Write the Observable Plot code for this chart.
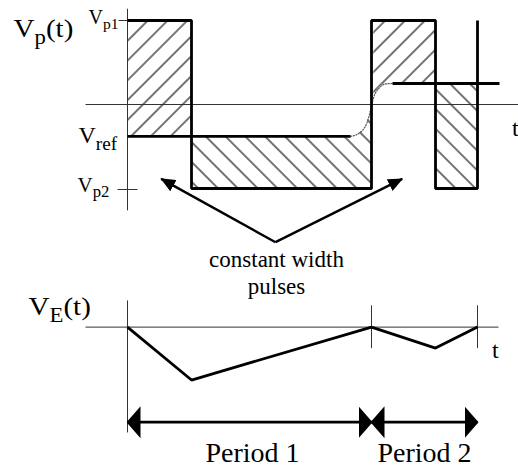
<!DOCTYPE html>
<html><head><meta charset="utf-8">
<script src="https://cdn.jsdelivr.net/npm/d3@7"></script>
<script src="https://cdn.jsdelivr.net/npm/@observablehq/plot@0.6"></script>
<style>body{margin:0;background:#fff}#chart{width:518px;height:468px}</style>
</head><body><div id="chart"></div>
<script>
// ---- data (time units, voltage units) ----
const edgeTimes = [0, 64, 244, 308, 350];          // pulse edges
const pulseLevels = [1, -1, 1, -1, 1];              // Vp1 / Vp2 (step-after)
const VP1 = 1, VP2 = -1;
const vrefSegments = [{t1: 0, t2: 223, v: -0.38}, {t1: 265, t2: 372, v: 0.25}];
const transT = [223, 233, 241.3, 243.7, 246.3, 251.3, 258, 265];
const transV = [-0.38, -0.33, -0.15, -0.03, 0.09, 0.19, 0.245, 0.25];
const veLevels = [0, -0.63, 0, -0.25, 0];           // VE(t) at the edges
const VE_ZERO = -2.65;                              // vertical position of VE panel zero
const periodLabels = ["Period 1", "Period 2"];

const labelsStart = [
  {text: "V_{p}(t)", t: -114, v: 0.80, size: 26, sub: 0.78, stretch: 1.12},
  {text: "V_{p1}", t: -39, v: 0.964, size: 20, sub: 0.78, stretch: 1},
  {text: "V_{ref}", t: -49, v: -0.464, size: 24, sub: 0.8, stretch: 1},
  {text: "V_{p2}", t: -50, v: -1.036, size: 20, sub: 0.8, stretch: 1.05},
  {text: "t", t: 384.5, v: -0.37, size: 24, sub: 1, stretch: 1},
  {text: "V_{E}(t)", t: -99, v: -2.51, size: 26, sub: 0.78, stretch: 1.12},
  {text: "t", t: 364.5, v: -3.012, size: 24, sub: 1, stretch: 1}
];
const labelsMiddle = [
  {text: "constant width", t: 149, v: -1.937, size: 23},
  {text: "pulses", t: 149, v: -2.25, size: 23},
  {text: periodLabels[0], t: 125, v: -4.258, size: 28},
  {text: periodLabels[1], t: 297, v: -4.258, size: 28}
];

// ---- derived tables ----
const wave = edgeTimes.map((t, i) => ({t, v: pulseLevels[i]}));
const ve = edgeTimes.map((t, i) => ({t, v: VE_ZERO + veLevels[i]}));
const trans = transT.map((t, i) => ({t, v: transV[i]}));
const hatchF = [{t1: edgeTimes[0], t2: edgeTimes[1], v1: vrefSegments[0].v, v2: VP1}];
const hatchB = [{t1: edgeTimes[3], t2: edgeTimes[4], v1: VP2, v2: vrefSegments[1].v}];
const areaLow = [{t: edgeTimes[1], lo: VP2, hi: vrefSegments[0].v}]
  .concat(trans.filter(d => d.t <= edgeTimes[2]).map(d => ({t: d.t, lo: VP2, hi: d.v})));
const areaHigh = trans.filter(d => d.t >= edgeTimes[2]).map(d => ({t: d.t, lo: d.v, hi: VP1}))
  .concat([{t: edgeTimes[3], lo: vrefSegments[1].v, hi: VP1}]);

const thin = [
  {t1: -42, v1: 0, t2: 391, v2: 0},
  {t1: 0, v1: 1.14, t2: 0, v2: -1.26},
  {t1: -9, v1: VP1, t2: 0, v2: VP1},
  {t1: -10, v1: VP2 - 0.012, t2: 10, v2: VP2 - 0.012},
  {t1: -42, v1: VE_ZERO, t2: 371, v2: VE_ZERO},
  {t1: 0, v1: VE_ZERO + 0.318, t2: 0, v2: VE_ZERO - 1.254},
  {t1: edgeTimes[2], v1: VE_ZERO + 0.26, t2: edgeTimes[2], v2: VE_ZERO - 0.25},
  {t1: edgeTimes[4], v1: VE_ZERO + 0.26, t2: edgeTimes[4], v2: VE_ZERO - 0.25}
];
const pointers = [
  {t1: 148, v1: -1.639, t2: 33.7, v2: -0.885},
  {t1: 148, v1: -1.639, t2: 274.7, v2: -0.885}
];
const PERIOD_V = VE_ZERO - 1.132;
const periods = [
  {t1: edgeTimes[0], t2: edgeTimes[2], v: PERIOD_V},
  {t1: edgeTimes[2], t2: edgeTimes[4], v: PERIOD_V}
];

const FONT = "'Liberation Serif', 'Times New Roman', Times, serif";
const textMarks = [];
for (const [size, rows] of d3.group(labelsStart, d => d.size))
  textMarks.push(Plot.text(rows, {x: "t", y: "v", text: "text", textAnchor: "start", lineAnchor: "bottom", fontSize: size, fontFamily: FONT, fill: "black"}));
for (const [size, rows] of d3.group(labelsMiddle, d => d.size))
  textMarks.push(Plot.text(rows, {x: "t", y: "v", text: "text", textAnchor: "middle", lineAnchor: "bottom", fontSize: size, fontFamily: FONT, fill: "black"}));

const svg = Plot.plot({
  width: 518, height: 468, margin: 0,
  x: {domain: [-127, 391], axis: null},
  y: {domain: [-4.333, 1.238], axis: null},
  style: {background: "white", fontFamily: FONT, overflow: "visible"},
  marks: [
    Plot.rect(hatchF, {x1: "t1", x2: "t2", y1: "v1", y2: "v2", fill: "url(#hatchF)"}),
    Plot.rect(hatchB, {x1: "t1", x2: "t2", y1: "v1", y2: "v2", fill: "url(#hatchB)"}),
    Plot.areaY(areaLow, {x: "t", y1: "lo", y2: "hi", fill: "url(#hatchB)", curve: "monotone-x"}),
    Plot.areaY(areaHigh, {x: "t", y1: "lo", y2: "hi", fill: "url(#hatchF)", curve: "monotone-x"}),
    Plot.link(thin, {x1: "t1", y1: "v1", x2: "t2", y2: "v2", stroke: "#333", strokeWidth: 1}),
    Plot.line(trans, {x: "t", y: "v", curve: "monotone-x", stroke: "#555", strokeWidth: 1.2, strokeDasharray: "1.2,1.6"}),
    Plot.link(vrefSegments, {x1: "t1", x2: "t2", y1: "v", y2: "v", stroke: "black", strokeWidth: 2.8, strokeLinecap: "butt"}),
    Plot.line(wave, {x: "t", y: "v", curve: "step-after", stroke: "black", strokeWidth: 2.8, strokeLinejoin: "miter", strokeLinecap: "butt"}),
    Plot.line(ve, {x: "t", y: "v", stroke: "black", strokeWidth: 2.8, strokeLinejoin: "miter", strokeLinecap: "butt"}),
    Plot.link(pointers, {x1: "t1", y1: "v1", x2: "t2", y2: "v2", stroke: "black", strokeWidth: 2.4, strokeLinecap: "butt", ariaDescription: "pointer"}),
    Plot.link(periods, {x1: "t1", x2: "t2", y1: "v", y2: "v", stroke: "black", strokeWidth: 2.8, strokeLinecap: "butt", ariaDescription: "period"}),
    ...textMarks
  ]
});

// defs: hatch patterns and filled arrowheads
const defs = d3.select(svg).insert("defs", ":first-child");
[["hatchF", 45], ["hatchB", -45]].forEach(([id, a]) => {
  defs.append("pattern").attr("id", id).attr("patternUnits", "userSpaceOnUse")
    .attr("width", 14).attr("height", 14).attr("patternTransform", `rotate(${a})`)
    .append("line").attr("x1", 7).attr("x2", 7).attr("y1", -1).attr("y2", 15)
    .attr("stroke", "black").attr("stroke-width", 1.1);
});
function marker(id, len, half) {
  defs.append("marker").attr("id", id).attr("markerUnits", "userSpaceOnUse")
    .attr("viewBox", `0 ${-half} ${len} ${2 * half}`).attr("markerWidth", len).attr("markerHeight", 2 * half)
    .attr("refX", len - 1).attr("refY", 0).attr("orient", "auto-start-reverse")
    .append("path").attr("d", `M0,${-half}L${len},0L0,${half}Z`).attr("fill", "black");
}
marker("headSmall", 15, 6.5);
marker("headBig", 14, 16);
d3.select(svg).selectAll('[aria-description="pointer"] path').attr("marker-end", "url(#headSmall)");
d3.select(svg).selectAll('[aria-description="period"] path')
  .attr("marker-start", "url(#headBig)").attr("marker-end", "url(#headBig)");

document.getElementById("chart").appendChild(svg);

// subscripts and horizontal stretch of the left labels
const labelInfo = new Map(labelsStart.map(d => [d.text, d]));
d3.select(svg).selectAll("text").each(function () {
  const s = this.textContent;
  const info = labelInfo.get(s);
  if (!info) return;
  if (info.stretch !== 1) {
    const tr = this.getAttribute("transform") || "";
    this.setAttribute("transform", `${tr} scale(${info.stretch},1)`);
  }
  if (!s.includes("_{")) return;
  const size = parseFloat(getComputedStyle(this).fontSize);
  const shift = size * 0.26;
  const parts = s.split(/_\{([^}]*)\}/);
  this.textContent = "";
  let sub = false;
  parts.forEach((p, i) => {
    if (!p) return;
    const ts = d3.select(this).append("tspan").text(p);
    if (i % 2 === 1) { ts.attr("font-size", size * info.sub).attr("dy", shift); sub = true; }
    else if (sub) { ts.attr("dy", -shift); sub = false; }
  });
});
</script></body></html>
